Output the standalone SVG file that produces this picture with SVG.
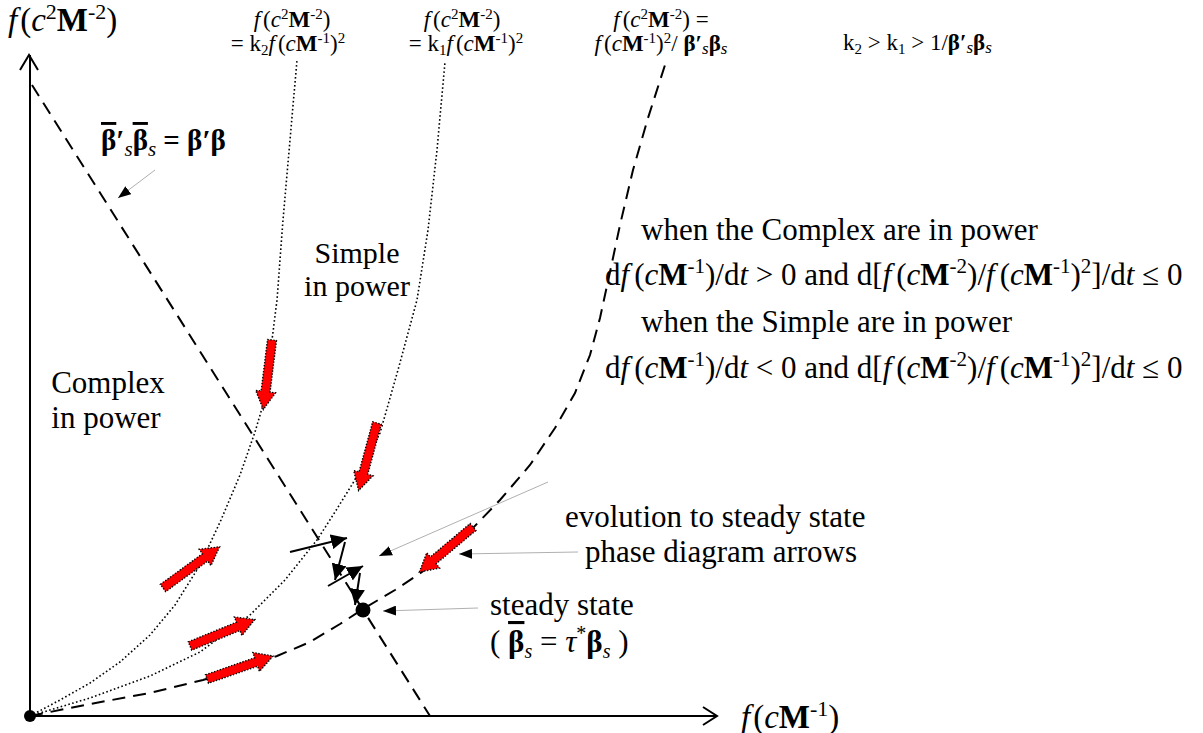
<svg xmlns="http://www.w3.org/2000/svg" xmlns:xlink="http://www.w3.org/1999/xlink" width="1203" height="733" viewBox="0 0 1203 733">
<style>
text{font-family:"Liberation Serif","Times New Roman",serif;fill:#000}
.i{font-style:italic}
.b{font-weight:bold}
.n{font-weight:normal}
.ax{stroke:#000;stroke-width:2;fill:none}
.dash{stroke:#000;stroke-width:2;fill:none;stroke-dasharray:13 8}
.dot{stroke:#000;stroke-width:1.6;fill:none;stroke-dasharray:1.6 2.4}
.red{fill:#f00;stroke:#000;stroke-width:1.4;stroke-dasharray:1.4 1.6}
.blk{stroke:#000;stroke-width:2;fill:none}
.ptr{stroke:#b0b0b0;stroke-width:1;fill:none}
.ol{text-decoration:overline}
</style>
<defs>
<path id="ra" d="M0,-4.5 L52,-4.5 L52,-10 L70,0 L52,10 L52,4.5 L0,4.5 Z"/>
<marker id="bk" markerUnits="userSpaceOnUse" markerWidth="17" markerHeight="15" refX="16" refY="7.5" orient="auto"><path d="M0,0 L16,7.5 L0,15 Z" fill="#000"/></marker>
<marker id="gp" markerUnits="userSpaceOnUse" markerWidth="13" markerHeight="10" refX="13" refY="5" orient="auto"><path d="M0,0 L13,5 L0,10 Z" fill="#000"/></marker>
</defs>
<rect width="1203" height="733" fill="#fff"/>

<g id="axes">
<line class="ax" x1="30" y1="716" x2="30" y2="55"/>
<polyline class="ax" stroke-width="1.5" points="20,70 29,55 38,70"/>
<line class="ax" x1="30" y1="716" x2="717" y2="716"/>
<polyline class="ax" stroke-width="1.5" points="703,707 717,716 703,725"/>
<circle cx="30" cy="716" r="6" fill="#000"/>
<text x="8" y="31" font-size="33"><tspan class="i">f</tspan><tspan dx="3">(</tspan><tspan class="i">c</tspan><tspan font-size="22" dy="-12">2</tspan><tspan class="b" dy="12">M</tspan><tspan font-size="22" dy="-12">-2</tspan><tspan dy="12">)</tspan></text>
<text x="741" y="728" font-size="33"><tspan class="i">f</tspan><tspan dx="3">(</tspan><tspan class="i">c</tspan><tspan class="b">M</tspan><tspan font-size="22" dy="-12">-1</tspan><tspan dy="12">)</tspan></text>
</g>

<g id="connectors">
<line class="dash" x1="32" y1="85" x2="430" y2="716"/>
<polyline class="dash" points="30,716 90,704 150,693 203,680 240,669 277,656 310,642 340,624 363,609 395,590 422,572 450,550 470,531 500,500 530,465 555,428 575,393 590,355 600,318 610,272 620,225 633,170 648,118 665,65"/>
<polyline class="dot" points="30,716 90,698 150,676 200,652 250,615 285,580 317,540 335,512 353,483 367,458 380,433 398,370 417,300 428,230 437,150 445,62"/>
<polyline class="dot" points="30,716 60,700 90,683 120,662 150,635 175,605 200,565 221,520 240,475 255,432 263,405 268,375 272,340 277,300 283,220 290,140 297,60"/>

<use xlink:href="#ra" class="red" transform="translate(272,340) rotate(97.1)"/>
<use xlink:href="#ra" class="red" transform="translate(377,423) rotate(105.2)"/>
<use xlink:href="#ra" class="red" transform="translate(163,588) rotate(-36)"/>
<use xlink:href="#ra" class="red" transform="translate(190,646) rotate(-22.2)"/>
<use xlink:href="#ra" class="red" transform="translate(207,679) rotate(-19.1)"/>
<use xlink:href="#ra" class="red" transform="translate(473,527) rotate(140)"/>

<line class="blk" x1="290" y1="552" x2="347" y2="538" marker-end="url(#bk)"/>
<line class="blk" x1="345" y1="542" x2="335" y2="580" marker-end="url(#bk)"/>
<line class="blk" x1="328" y1="586" x2="363" y2="566" marker-end="url(#bk)"/>
<line class="blk" x1="360" y1="573" x2="355" y2="605" marker-end="url(#bk)"/>

<line class="ptr" x1="155" y1="170" x2="118" y2="198" marker-end="url(#gp)"/>
<line class="ptr" x1="548" y1="482" x2="379" y2="556" marker-end="url(#gp)"/>
<line class="ptr" x1="578" y1="552" x2="459" y2="554" marker-end="url(#gp)"/>
<line class="ptr" x1="478" y1="608" x2="383" y2="611" marker-end="url(#gp)"/>
</g>

<g id="steady-state">
<circle cx="363" cy="610" r="7.5" fill="#000"/>
<text x="490" y="615" font-size="31">steady state</text>
<text x="490" y="652" font-size="31">( <tspan class="b ol">β</tspan><tspan class="i" font-size="20" dy="6">s</tspan><tspan dy="-6"> = </tspan><tspan class="i">τ</tspan><tspan font-size="20" dy="-12">*</tspan><tspan class="b" dy="12">β</tspan><tspan class="i" font-size="20" dy="6">s</tspan><tspan dy="-6"> )</tspan></text>
</g>

<g id="label-k2">
<text x="292" y="27" text-anchor="middle" font-size="23"><tspan class="i">f</tspan><tspan dx="3">(</tspan><tspan class="i">c</tspan><tspan font-size="15" dy="-8">2</tspan><tspan class="b" dy="8">M</tspan><tspan font-size="15" dy="-8">-2</tspan><tspan dy="8">)</tspan></text>
<text x="288" y="51" text-anchor="middle" font-size="23">= k<tspan font-size="15" dy="4">2</tspan><tspan class="i" dy="-4">f</tspan><tspan dx="3">(</tspan><tspan class="i">c</tspan><tspan class="b">M</tspan><tspan font-size="15" dy="-8">-1</tspan><tspan dy="8">)</tspan><tspan font-size="15" dy="-8">2</tspan></text>
</g>

<g id="label-k1">
<text x="462" y="27" text-anchor="middle" font-size="23"><tspan class="i">f</tspan><tspan dx="3">(</tspan><tspan class="i">c</tspan><tspan font-size="15" dy="-8">2</tspan><tspan class="b" dy="8">M</tspan><tspan font-size="15" dy="-8">-2</tspan><tspan dy="8">)</tspan></text>
<text x="466" y="51" text-anchor="middle" font-size="23">= k<tspan font-size="15" dy="4">1</tspan><tspan class="i" dy="-4">f</tspan><tspan dx="3">(</tspan><tspan class="i">c</tspan><tspan class="b">M</tspan><tspan font-size="15" dy="-8">-1</tspan><tspan dy="8">)</tspan><tspan font-size="15" dy="-8">2</tspan></text>
</g>

<g id="label-beta">
<text x="661" y="27" text-anchor="middle" font-size="23"><tspan class="i">f</tspan><tspan dx="3">(</tspan><tspan class="i">c</tspan><tspan font-size="15" dy="-8">2</tspan><tspan class="b" dy="8">M</tspan><tspan font-size="15" dy="-8">-2</tspan><tspan dy="8">) =</tspan></text>
<text x="661" y="51" text-anchor="middle" font-size="23"><tspan class="i">f</tspan><tspan dx="3">(</tspan><tspan class="i">c</tspan><tspan class="b">M</tspan><tspan font-size="15" dy="-8">-1</tspan><tspan dy="8">)</tspan><tspan font-size="15" dy="-8">2</tspan><tspan dy="8">/ </tspan><tspan class="b">β′</tspan><tspan class="i" font-size="17" dy="3">s</tspan><tspan class="b" dy="-3">β</tspan><tspan class="i" font-size="17" dy="3">s</tspan></text>
</g>

<g id="label-order">
<text x="843" y="50" font-size="23">k<tspan font-size="15" dy="4">2</tspan><tspan dy="-4"> &gt; k</tspan><tspan font-size="15" dy="4">1</tspan><tspan dy="-4"> &gt; 1/</tspan><tspan class="b">β′</tspan><tspan class="i" font-size="17" dy="3">s</tspan><tspan class="b" dy="-3">β</tspan><tspan class="i" font-size="17" dy="3">s</tspan></text>
</g>

<g id="label-line">
<text x="101" y="150" font-size="29" class="b"><tspan class="ol">β</tspan>′<tspan class="i n" font-size="21" dy="6">s</tspan><tspan class="ol" dy="-6">β</tspan><tspan class="i n" font-size="21" dy="6">s</tspan><tspan dy="-6"> = β′β</tspan></text>
</g>

<g id="region-simple">
<text x="357" y="263" text-anchor="middle" font-size="30">Simple</text>
<text x="357" y="296" text-anchor="middle" font-size="30">in power</text>
</g>

<g id="region-complex">
<text x="108" y="393" text-anchor="middle" font-size="31">Complex</text>
<text x="106" y="428" text-anchor="middle" font-size="31">in power</text>
</g>

<g id="rules">
<text x="641" y="240" font-size="31">when the Complex are in power</text>
<text x="605" y="285" font-size="31">d<tspan class="i">f</tspan><tspan dx="5">(</tspan><tspan class="i">c</tspan><tspan class="b">M</tspan><tspan font-size="21" dy="-12">-1</tspan><tspan dy="12">)/d</tspan><tspan class="i">t</tspan> &gt; 0 and d[<tspan class="i">f</tspan><tspan dx="5">(</tspan><tspan class="i">c</tspan><tspan class="b">M</tspan><tspan font-size="21" dy="-12">-2</tspan><tspan dy="12">)/</tspan><tspan class="i">f</tspan><tspan dx="5">(</tspan><tspan class="i">c</tspan><tspan class="b">M</tspan><tspan font-size="21" dy="-12">-1</tspan><tspan dy="12">)</tspan><tspan font-size="21" dy="-12">2</tspan><tspan dy="12">]/d</tspan><tspan class="i">t</tspan> ≤ 0</text>
<text x="641" y="332" font-size="31">when the Simple are in power</text>
<text x="605" y="378" font-size="31">d<tspan class="i">f</tspan><tspan dx="5">(</tspan><tspan class="i">c</tspan><tspan class="b">M</tspan><tspan font-size="21" dy="-12">-1</tspan><tspan dy="12">)/d</tspan><tspan class="i">t</tspan> &lt; 0 and d[<tspan class="i">f</tspan><tspan dx="5">(</tspan><tspan class="i">c</tspan><tspan class="b">M</tspan><tspan font-size="21" dy="-12">-2</tspan><tspan dy="12">)/</tspan><tspan class="i">f</tspan><tspan dx="5">(</tspan><tspan class="i">c</tspan><tspan class="b">M</tspan><tspan font-size="21" dy="-12">-1</tspan><tspan dy="12">)</tspan><tspan font-size="21" dy="-12">2</tspan><tspan dy="12">]/d</tspan><tspan class="i">t</tspan> ≤ 0</text>
</g>

<g id="pointer-labels">
<text x="565" y="527" font-size="31">evolution to steady state</text>
<text x="585" y="562" font-size="31">phase diagram arrows</text>
</g>
</svg>
